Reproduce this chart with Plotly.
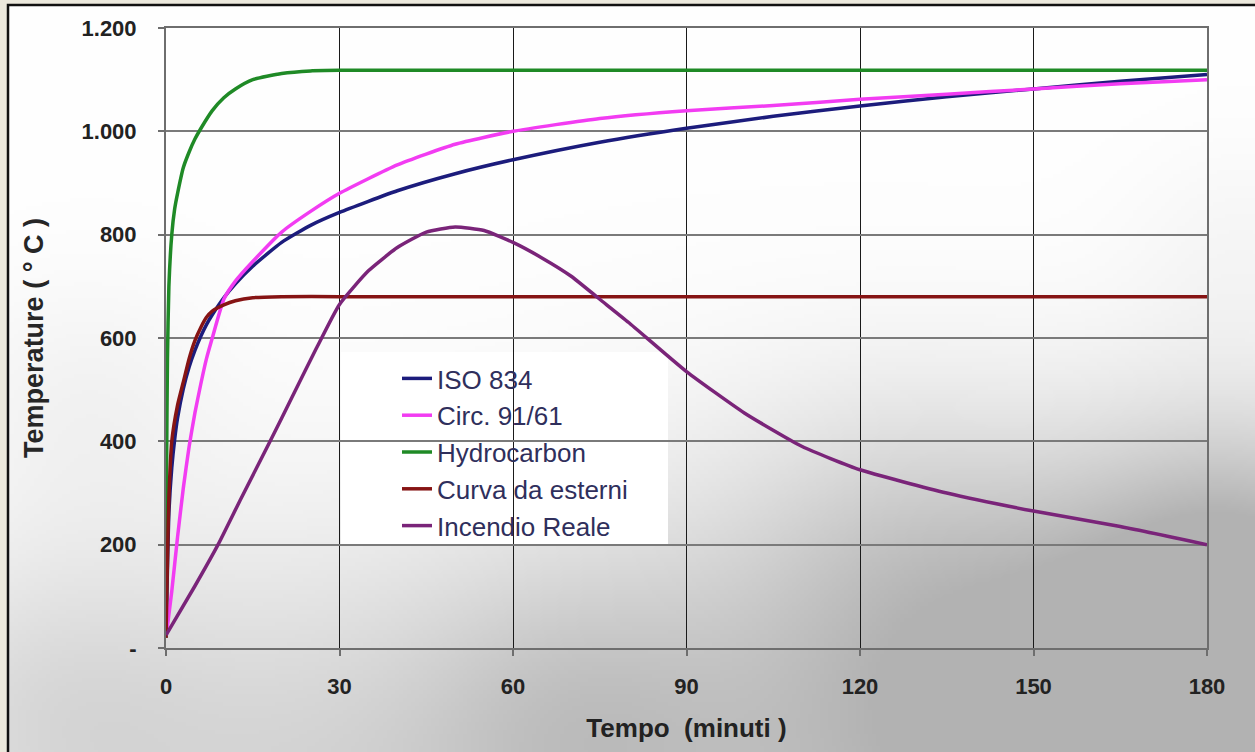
import base64
import struct
import zlib

import numpy as np
import plotly.graph_objects as go

# ---------------- data ----------------
t_iso = [0, 0.5, 1, 1.5, 2, 3, 4, 5, 6, 7, 8, 10, 12, 15, 20, 25, 30, 40, 50, 60,
         75, 90, 105, 120, 135, 150, 165, 180]
iso_834 = [20, 261, 349, 404, 445, 502, 544, 576, 603, 626, 645, 678, 705, 739, 785,
           818, 843, 885, 918, 945, 979, 1006, 1029, 1049, 1067, 1082, 1097, 1110]

t_circ = [0, 1, 2, 3, 4, 5, 6, 7, 8, 10, 12, 15, 20, 25, 30, 40, 50, 60, 75, 90,
          105, 120, 135, 150, 165, 180]
circ_91_61 = [20, 110, 215, 310, 390, 455, 510, 560, 600, 675, 710, 748, 805, 845, 880,
              935, 975, 1000, 1025, 1040, 1050, 1062, 1072, 1082, 1092, 1100]

t_hydro = [0, 0.1, 0.25, 0.5, 1, 1.5, 2, 3, 4, 5, 6, 8, 10, 12, 15, 20, 25, 30, 60,
           90, 120, 150, 180]
hydrocarbon = [20, 350, 560, 700, 800, 850, 880, 930, 960, 985, 1005, 1040, 1065, 1082,
               1100, 1112, 1117, 1118, 1118, 1118, 1118, 1118, 1118]

t_ext = [0, 0.3, 0.5, 1, 2, 3, 4, 5, 6, 7, 8, 10, 12, 15, 20, 30, 60, 90, 120, 150, 180]
curva_esterni = [20, 200, 290, 400, 470, 515, 560, 595, 620, 640, 652, 664, 672, 678,
                 680, 680, 680, 680, 680, 680, 680]

t_real = [0, 5, 9, 13, 18, 22, 26, 30, 35, 40, 45, 50, 55, 60, 65, 70, 75, 80, 90,
          100, 110, 120, 135, 150, 165, 180]
incendio_reale = [25, 120, 200, 290, 400, 490, 580, 665, 730, 775, 805, 815, 808, 785,
                  755, 720, 675, 630, 535, 455, 390, 345, 300, 265, 235, 200]

series_names = ["ISO 834", "Circ. 91/61", "Hydrocarbon", "Curva da esterni", "Incendio Reale"]
series_colors = ["#1c1c7c", "#f23cf2", "#1f8a26", "#861414", "#7a2479"]

x_ticks = [0, 30, 60, 90, 120, 150, 180]
y_ticks = [0, 200, 400, 600, 800, 1000, 1200]
y_tick_text = ["-", "200", "400", "600", "800", "1.000", "1.200"]

# ---------------- cloudy background (decoration) ----------------
W, H = 1255, 752
SC = 4
iw, ih = W // SC, H // SC
yy, xx = np.mgrid[0:ih, 0:iw].astype(float)
xx *= SC
yy *= SC
blobs = [  # (cx, cy, sigma, darkness)
    (1010, 660, 160, 0.14), (1250, 580, 120, 0.24), (1150, 780, 170, 0.22),
    (720, 790, 210, 0.19), (280, 800, 190, 0.14), (30, 710, 120, 0.10),
    (560, 710, 110, 0.08), (880, 530, 110, 0.06), (80, 400, 90, 0.04),
    (1240, 250, 80, 0.03),
]
dark = np.zeros_like(xx)
for cx, cy, s, d in blobs:
    dark += d * np.exp(-((xx - cx) ** 2 + (yy - cy) ** 2) / (2 * s * s))
dark = np.clip(dark, 0, 0.3)
val = (255 * (1 - dark)).astype(np.uint8)
rgb = np.stack([val, val, val], axis=-1)


def png_data_uri(arr):
    h, w, _ = arr.shape
    raw = b"".join(b"\x00" + arr[r].tobytes() for r in range(h))

    def chunk(tag, data):
        c = struct.pack(">I", len(data)) + tag + data
        return c + struct.pack(">I", zlib.crc32(tag + data) & 0xFFFFFFFF)

    png = b"\x89PNG\r\n\x1a\n" + chunk(b"IHDR", struct.pack(">IIBBBBB", w, h, 8, 2, 0, 0, 0))
    png += chunk(b"IDAT", zlib.compress(raw, 9)) + chunk(b"IEND", b"")
    return "data:image/png;base64," + base64.b64encode(png).decode()


# ---------------- figure ----------------
L, R, T, B = 166, 48, 28, 104
pw, ph = W - L - R, H - T - B


def px_to_paper(x, y):
    return (x - L) / pw, (H - B - y) / ph


fig = go.Figure()
xs = [t_iso, t_circ, t_hydro, t_ext, t_real]
ys = [iso_834, circ_91_61, hydrocarbon, curva_esterni, incendio_reale]
for i, (xv, yv) in enumerate(zip(xs, ys)):
    fig.add_trace(go.Scatter(
        x=xv, y=yv, mode="lines", name=series_names[i],
        line=dict(color=series_colors[i], width=3.5, shape="spline", smoothing=0.5),
        legendgroup=str(i),
    ))

x0p, y0p = px_to_paper(8, 5)
x1p, y1p = px_to_paper(W, H)
fig.add_layout_image(dict(
    source=png_data_uri(rgb), xref="paper", yref="paper",
    x=px_to_paper(0, 0)[0], y=px_to_paper(0, 0)[1],
    sizex=W / pw, sizey=H / ph, sizing="stretch", layer="below", xanchor="left", yanchor="top",
))
# beige page margin + black frame
fig.add_shape(type="rect", xref="paper", yref="paper", x0=px_to_paper(0, 0)[0], x1=x0p,
              y0=y1p, y1=px_to_paper(0, 0)[1], fillcolor="#ece9dd", line_width=0, layer="below")
fig.add_shape(type="rect", xref="paper", yref="paper", x0=x0p, x1=px_to_paper(W, 0)[0],
              y0=y0p, y1=px_to_paper(0, 0)[1], fillcolor="#ece9dd", line_width=0, layer="below")
fig.add_shape(type="rect", xref="paper", yref="paper", x0=x0p, x1=px_to_paper(W + 5, 0)[0],
              y0=px_to_paper(0, H + 5)[1], y1=y0p, fillcolor="rgba(0,0,0,0)",
              line=dict(color="#111111", width=2.5), layer="above")
# white legend box hiding the gridlines behind it
lb0 = px_to_paper(341, 546)
lb1 = px_to_paper(668, 352)
fig.add_shape(type="rect", xref="paper", yref="paper", x0=lb0[0], y0=lb0[1], x1=lb1[0], y1=lb1[1],
              fillcolor="white", line_width=0, layer="between")

tick_font = dict(family="Liberation Sans, Arial, sans-serif", size=22, color="#222222", weight="bold")

fig.update_layout(
    width=W, height=H,
    margin=dict(l=L, r=R, t=T, b=B),
    paper_bgcolor="white",
    plot_bgcolor="rgba(0,0,0,0)",
    showlegend=True,
    legend=dict(
        x=px_to_paper(397, 0)[0], y=px_to_paper(0, 355)[1], xanchor="left", yanchor="top",
        bgcolor="rgba(0,0,0,0)", borderwidth=0, tracegroupgap=0,
        font=dict(family="Liberation Sans, Arial, sans-serif", size=26, color="#2f2f5c"),
    ),
    xaxis=dict(
        range=[0, 180], tickvals=x_ticks, ticktext=[str(v) for v in x_ticks],
        showgrid=True, gridcolor="#1a1a1a", gridwidth=1,
        showline=True, linecolor="#6e6e6e", linewidth=2, mirror=True,
        ticks="outside", ticklen=6, tickcolor="#6e6e6e", tickwidth=1.5,
        ticklabelstandoff=12, zeroline=False,
        tickfont=tick_font,
        title=dict(text="Tempo\u00a0\u00a0(minuti\u00a0)", standoff=20,
                   font=dict(family="Liberation Sans, Arial, sans-serif", size=26,
                             color="#222222", weight="bold")),
    ),
    yaxis=dict(
        range=[0, 1200], tickvals=y_ticks, ticktext=y_tick_text,
        showgrid=True, gridcolor="#7a7a7a", gridwidth=2,
        showline=True, linecolor="#6e6e6e", linewidth=2, mirror=True,
        ticks="outside", ticklen=6, tickcolor="#6e6e6e", tickwidth=1.5,
        ticklabelstandoff=17, zeroline=False,
        tickfont=tick_font,
        title=dict(text="Temperature ( \u00b0 C )", standoff=30,
                   font=dict(family="Liberation Sans, Arial, sans-serif", size=27,
                             color="#262626", weight="bold")),
    ),
)

fig.write_html("out.html", config={"displayModeBar": False},
               post_script="document.body.style.margin='0px';document.body.style.padding='0px';")
